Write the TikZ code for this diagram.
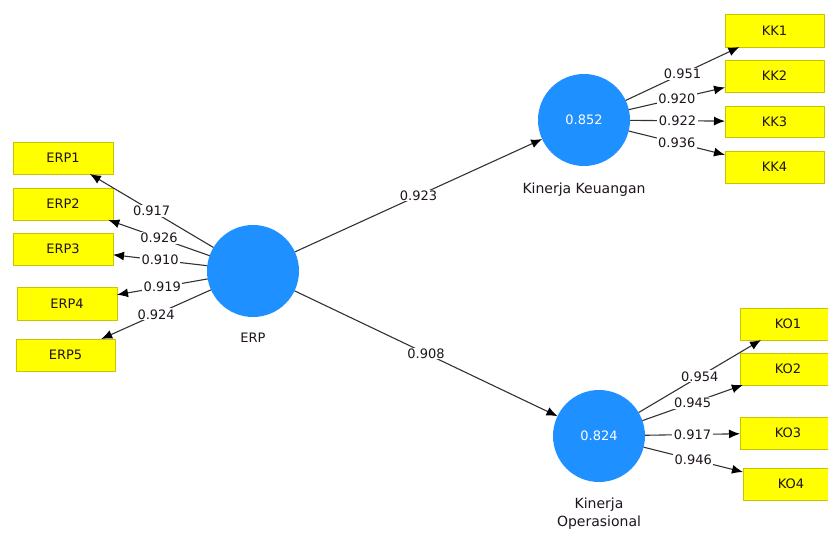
\documentclass[tikz,border=0pt]{standalone}
\usepackage{fontspec}
\setmainfont{DejaVu Sans}
\usetikzlibrary{arrows.meta}
\definecolor{lvblue}{RGB}{30,144,255}
\definecolor{boxyellow}{RGB}{255,255,0}
\definecolor{boxborder}{RGB}{200,196,0}
\definecolor{linegray}{RGB}{50,50,50}
\definecolor{txt}{RGB}{30,20,30}
\begin{document}
\begin{tikzpicture}[x=1pt,y=-1pt,
  ind/.style={draw=boxborder, fill=boxyellow, line width=0.8pt, minimum width=100pt,
    minimum height=32pt, inner sep=0pt, outer sep=0pt, text=txt,
    font=\fontsize{13}{15}\selectfont},
  lv/.style={circle, fill=lvblue, minimum size=92pt, inner sep=0pt, outer sep=0pt,
    text=white, font=\fontsize{13}{15}\selectfont},
  lvname/.style={text=txt, align=center, font=\fontsize{14}{18}\selectfont},
  conn/.style={draw=linegray, line width=1.1pt, -{Latex[length=11pt,width=9pt,color=black]}},
  lbl/.style={fill=white, inner xsep=1.5pt, inner ysep=1pt, text=txt, midway, font=\fontsize{13}{15}\selectfont}]
\useasboundingbox (0,0) rectangle (828,533);

% latent variables
\node[lv] (ERP) at (253,271) {};
\node[lv] (KK) at (584,120) {0.852};
\node[lv] (KO) at (599,436) {0.824};
\node[lvname, font=\fontsize{13}{15}\selectfont] (ERPn) at (253,338) {ERP};
\node[lvname] (KKn) at (584,190) {Kinerja Keuangan};
\node[lvname] (KOn) at (599,514) {Kinerja\\Operasional};

% indicators
\node[ind] (ERP1) at (63,158) {ERP1};
\node[ind] (ERP2) at (63,204) {ERP2};
\node[ind] (ERP3) at (63,249) {ERP3};
\node[ind, minimum height=33pt] (ERP4) at (67,303.5) {ERP4};
\node[ind, minimum width=99pt] (ERP5) at (65.5,355) {ERP5};
\node[ind, minimum width=99pt, minimum height=33pt] (KK1) at (774.5,30.5) {KK1};
\node[ind, minimum width=99pt] (KK2) at (774.5,76) {KK2};
\node[ind, minimum width=99pt, minimum height=31pt] (KK3) at (774.5,121.5) {KK3};
\node[ind, minimum width=99pt] (KK4) at (774.5,167) {KK4};
\node[ind, minimum width=96pt] (KO1) at (788,324) {KO1};
\node[ind, minimum width=96pt] (KO2) at (788,369) {KO2};
\node[ind, minimum width=96pt] (KO3) at (788,433) {KO3};
\node[ind, minimum width=96pt] (KO4) at (791,484) {KO4};

% structural paths
\draw[conn] (ERP) -- (KK) node[lbl] {0.923};
\draw[conn] (ERP) -- (KO) node[lbl] {0.908};

% outer loadings
\draw[conn] (ERP) -- (ERP1) node[lbl] {0.917};
\draw[conn] (ERP) -- (ERP2) node[lbl] {0.926};
\draw[conn] (ERP) -- (ERP3) node[lbl] {0.910};
\draw[conn] (ERP) -- (ERP4) node[lbl] {0.919};
\draw[conn] (ERP) -- (ERP5) node[lbl] {0.924};

\draw[conn] (KK) -- (KK1) node[lbl] {0.951};
\draw[conn] (KK) -- (KK2) node[lbl] {0.920};
\draw[conn] (KK) -- (KK3) node[lbl] {0.922};
\draw[conn] (KK) -- (KK4) node[lbl] {0.936};

\draw[conn] (KO) -- (KO1) node[lbl] {0.954};
\draw[conn] (KO) -- (KO2) node[lbl] {0.945};
\draw[conn] (KO) -- (KO3) node[lbl] {0.917};
\draw[conn] (KO) -- (KO4) node[lbl] {0.946};
\end{tikzpicture}
\end{document}
